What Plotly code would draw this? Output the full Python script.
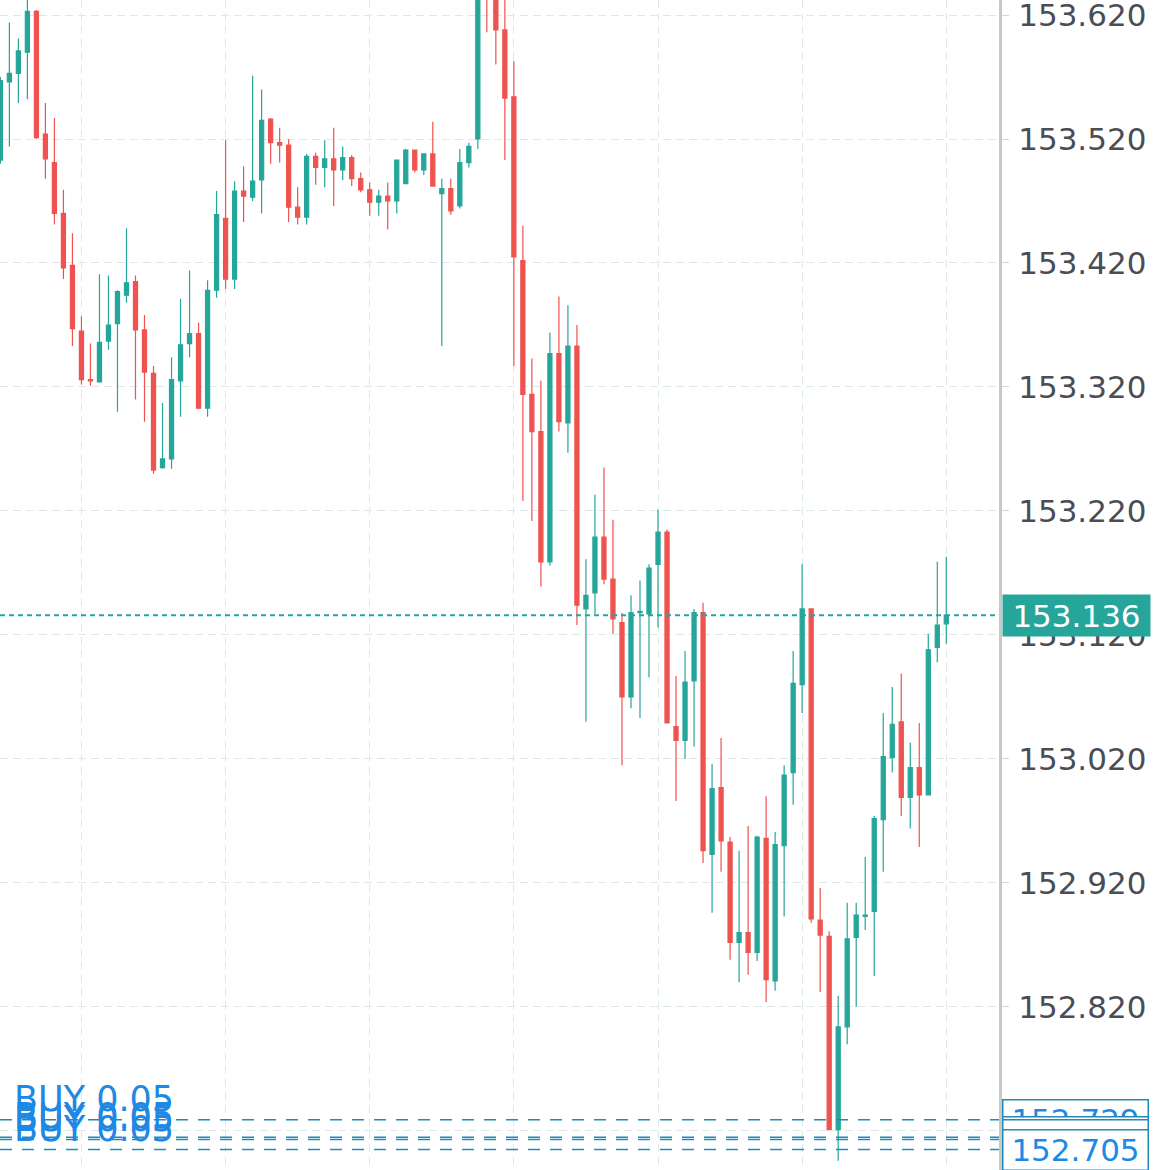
import plotly.graph_objects as go


# candles, oldest first (one per bar slot)
opens = [
    153.503, 153.566, 153.573, 153.590, 153.623, 153.524, 153.501, 153.460, 153.418, 153.365,
    153.326, 153.324, 153.357, 153.371, 153.394, 153.405, 153.366, 153.331, 153.255, 153.262,
    153.325, 153.355, 153.363, 153.303, 153.398, 153.456, 153.407, 153.478, 153.473, 153.487,
    153.536, 153.517, 153.515, 153.465, 153.457, 153.506, 153.497, 153.504, 153.495, 153.505,
    153.488, 153.479, 153.469, 153.474, 153.470, 153.484, 153.511, 153.495, 153.508, 153.476,
    153.480, 153.466, 153.501, 153.520, 153.660, 153.640, 153.608, 153.554, 153.422, 153.314,
    153.284, 153.179, 153.347, 153.291, 153.353, 153.141, 153.154, 153.199, 153.165, 153.130,
    153.070, 153.138, 153.137, 153.177, 153.203, 153.046, 153.035, 153.083, 153.138, 152.943,
    152.997, 152.953, 152.872, 152.880, 152.864, 152.956, 152.841, 152.950, 153.009, 153.080,
    153.141, 152.890, 152.877, 152.721, 152.804, 152.876, 152.893, 152.897, 152.971, 153.021,
    153.050, 152.989, 153.013, 152.991, 153.110, 153.129,
]
highs = [
    153.570, 153.614, 153.601, 153.640, 153.624, 153.549, 153.537, 153.479, 153.444, 153.377,
    153.355, 153.411, 153.410, 153.398, 153.448, 153.410, 153.378, 153.337, 153.307, 153.344,
    153.391, 153.414, 153.372, 153.406, 153.478, 153.519, 153.486, 153.498, 153.571, 153.560,
    153.537, 153.529, 153.520, 153.481, 153.508, 153.509, 153.519, 153.529, 153.514, 153.507,
    153.493, 153.485, 153.479, 153.485, 153.503, 153.512, 153.511, 153.508, 153.534, 153.488,
    153.488, 153.512, 153.517, 153.670, 153.670, 153.650, 153.640, 153.583, 153.450, 153.343,
    153.325, 153.364, 153.393, 153.386, 153.370, 153.181, 153.233, 153.255, 153.213, 153.138,
    153.152, 153.164, 153.177, 153.221, 153.205, 153.087, 153.107, 153.141, 153.146, 153.016,
    153.037, 152.957, 152.946, 152.966, 152.958, 152.990, 152.961, 153.015, 153.107, 153.177,
    153.141, 152.916, 152.881, 152.829, 152.904, 152.904, 152.941, 152.974, 153.057, 153.078,
    153.089, 153.033, 153.049, 153.121, 153.179, 153.183,
]
lows = [
    153.500, 153.514, 153.549, 153.552, 153.520, 153.488, 153.451, 153.407, 153.353, 153.322,
    153.321, 153.324, 153.350, 153.300, 153.388, 153.310, 153.292, 153.250, 153.254, 153.254,
    153.296, 153.344, 153.302, 153.296, 153.392, 153.399, 153.399, 153.453, 153.470, 153.460,
    153.500, 153.501, 153.453, 153.451, 153.451, 153.483, 153.481, 153.466, 153.487, 153.482,
    153.477, 153.458, 153.458, 153.447, 153.460, 153.484, 153.493, 153.491, 153.482, 153.353,
    153.459, 153.464, 153.497, 153.512, 153.606, 153.580, 153.503, 153.337, 153.228, 153.212,
    153.159, 153.176, 153.284, 153.267, 153.128, 153.050, 153.137, 153.161, 153.121, 153.015,
    153.061, 153.053, 153.086, 153.126, 153.049, 152.986, 153.020, 153.030, 152.936, 152.896,
    152.929, 152.858, 152.840, 152.846, 152.857, 152.824, 152.833, 152.893, 152.983, 153.057,
    152.888, 152.832, 152.721, 152.696, 152.790, 152.820, 152.882, 152.845, 152.929, 153.009,
    152.974, 152.964, 152.949, 152.991, 153.098, 153.113,
]
closes = [
    153.567, 153.573, 153.591, 153.623, 153.521, 153.504, 153.460, 153.416, 153.367, 153.326,
    153.325, 153.356, 153.370, 153.397, 153.404, 153.366, 153.332, 153.253, 153.262, 153.326,
    153.354, 153.363, 153.303, 153.398, 153.459, 153.407, 153.478, 153.474, 153.486, 153.535,
    153.517, 153.515, 153.465, 153.457, 153.506, 153.497, 153.504, 153.495, 153.505, 153.488,
    153.479, 153.469, 153.474, 153.470, 153.503, 153.511, 153.495, 153.508, 153.482, 153.480,
    153.462, 153.501, 153.514, 153.660, 153.640, 153.608, 153.553, 153.425, 153.314, 153.284,
    153.179, 153.347, 153.292, 153.353, 153.144, 153.152, 153.199, 153.165, 153.133, 153.070,
    153.138, 153.139, 153.174, 153.203, 153.049, 153.035, 153.082, 153.138, 152.946, 152.996,
    152.954, 152.872, 152.880, 152.864, 152.957, 152.842, 152.951, 153.007, 153.081, 153.141,
    152.891, 152.878, 152.721, 152.804, 152.875, 152.894, 152.894, 152.972, 153.022, 153.048,
    152.989, 153.013, 152.991, 153.108, 153.128, 153.136,
]
bars = list(range(len(closes)))

price_ticks = [152.72, 152.82, 152.92, 153.02, 153.12, 153.22, 153.32, 153.42, 153.52, 153.62]
time_grid = [9, 25, 41, 57, 73, 89, 105]

# open BUY orders (entry prices)
order_prices = [152.729, 152.715, 152.713, 152.705]
order_text = 'BUY 0.05'

UP, DOWN = '#26A69A', '#EF5350'
ORDER_LINE, ORDER_TEXT = '#1f8bb8', '#1E88E5'
GRID = '#dde8e8'
AXIS_TEXT = '#4a4d55'
FONT = 'DejaVu Sans'
FS = 31
W, H = 1170, 1170

fig = go.Figure(go.Candlestick(
    x=bars, open=opens, high=highs, low=lows, close=closes,
    increasing=dict(line=dict(color=UP, width=1.2), fillcolor=UP),
    decreasing=dict(line=dict(color=DOWN, width=1.2), fillcolor=DOWN),
    hoverinfo='skip',
))

last = closes[-1]
shapes = [
    dict(type='line', xref='paper', x0=0, x1=1, y0=last, y1=last,
         line=dict(color=UP, width=2, dash='5px,4px')),
]
annotations = []
for p in order_prices:
    shapes.append(dict(type='line', xref='paper', x0=0, x1=1, y0=p, y1=p,
                       line=dict(color=ORDER_LINE, width=1.5, dash='12px,10px')))
    annotations.append(dict(xref='paper', x=0, y=p, xanchor='left', yanchor='bottom',
                            xshift=12, yshift=-1, text=order_text, showarrow=False,
                            font=dict(family=FONT, size=35, color=ORDER_TEXT)))
for p in order_prices:
    annotations.append(dict(xref='paper', x=1, y=p, xanchor='left', yanchor='middle',
                            xshift=3, width=142, height=37, text=f'{p:.3f}', showarrow=False,
                            bgcolor='white', bordercolor=ORDER_LINE, borderwidth=1.5,
                            borderpad=1, font=dict(family=FONT, size=FS, color=ORDER_TEXT)))
annotations.append(dict(xref='paper', x=1, y=last, xanchor='left', yanchor='middle', xshift=3,
                        width=143, height=37, text=f'{last:.3f}', showarrow=False,
                        bgcolor=UP, borderpad=2, font=dict(family=FONT, size=FS, color='white')))

fig.update_layout(
    width=W, height=H,
    margin=dict(l=0, r=171, t=0, b=0, autoexpand=False),
    paper_bgcolor='white', plot_bgcolor='white',
    showlegend=False,
    boxgap=0.35,
    shapes=shapes,
    annotations=annotations,
    xaxis=dict(
        range=[-0.04, 110.85], tickvals=time_grid, showticklabels=False, ticks='',
        showgrid=True, gridcolor=GRID, griddash='8px,5px', gridwidth=1,
        zeroline=False, rangeslider=dict(visible=False),
    ),
    yaxis=dict(
        side='right', range=[152.6885, 153.6321],
        tickvals=price_ticks, ticktext=[f'{t:.3f}' for t in price_ticks],
        tickfont=dict(family=FONT, size=FS, color=AXIS_TEXT),
        ticks='outside', ticklen=7, tickcolor='#d6d6d6', tickwidth=1,
        ticklabelstandoff=3, ticklabeloverflow='allow',
        showgrid=True, gridcolor=GRID, griddash='8px,5px', gridwidth=1,
        zeroline=False, showline=True, linecolor='#c8c8c8', linewidth=3, mirror=True,
    ),
)

fig.write_html('out.html', config={'displayModeBar': False},
               post_script="document.body.style.margin='0';")
